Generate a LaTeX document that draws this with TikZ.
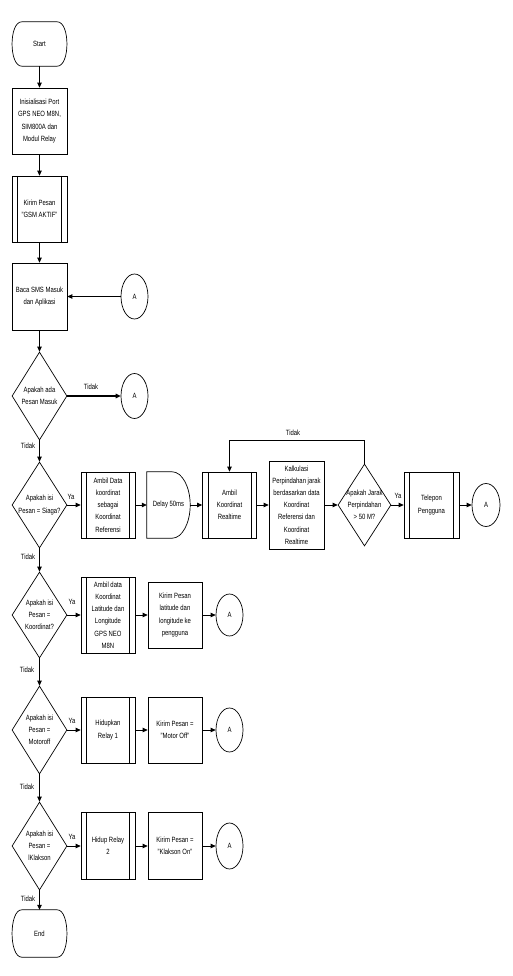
\documentclass[tikz,border=0pt]{standalone}
\usepackage{fontspec}
\setmainfont{Liberation Sans}[FakeStretch=0.78]
\usetikzlibrary{shapes.geometric,arrows.meta,calc}
\begin{document}
\begin{tikzpicture}[x=1pt,y=-1pt, font=\fontsize{7.6}{12.2}\selectfont,
 box/.style={draw, line width=0.7pt, minimum width=55pt, minimum height=66pt, inner sep=1pt, align=center},
 pbox/.style={box, path picture={\draw[line width=0.7pt] ([xshift=5.5pt]path picture bounding box.north west) -- ([xshift=5.5pt]path picture bounding box.south west); \draw[line width=0.7pt] ([xshift=-5.5pt]path picture bounding box.north east) -- ([xshift=-5.5pt]path picture bounding box.south east);}},
 dec/.style={draw, diamond, line width=0.7pt, minimum width=55pt, minimum height=86pt, inner sep=0pt},
 txt/.style={align=center, inner sep=0pt},
 conn/.style={draw, ellipse, line width=0.7pt, minimum width=27pt, minimum height=44pt, inner sep=0pt},
 arr/.style={line width=0.8pt, -{Triangle[length=5pt,width=4.5pt]}},
 lab/.style={inner sep=0pt},
 shp/.style={line width=0.7pt}]
\useasboundingbox (0,0) rectangle (513,976);

% Start
\node[txt, minimum width=55pt, minimum height=44pt] (start) at (39.5,44) {Start};
\draw[shp] ($(start.north west)+(10,0)$) -- ($(start.north east)+(-10,0)$)
  .. controls ($(start.north east)+(3,0)$) and ($(start.south east)+(3,0)$) .. ($(start.south east)+(-10,0)$)
  -- ($(start.south west)+(10,0)$)
  .. controls ($(start.south west)+(-3,0)$) and ($(start.north west)+(-3,0)$) .. cycle;

\node[box] (init) at (39.5,121) {Inisialisasi Port\\GPS NEO M8N,\\SIM800A dan\\Modul Relay};
\node[pbox] (kirim1) at (39.5,209) {Kirim Pesan\\"GSM AKTIF"};
\node[box, minimum height=67pt] (baca) at (39.5,296.5) {Baca SMS Masuk\\dan Aplikasi};
\node[conn, minimum height=45pt] (A1) at (134.5,296.5) {A};

\node[dec, minimum height=88pt] (d1) at (39.5,396) {};
\node[txt] (d1t) at (d1.center) {Apakah ada\\Pesan Masuk};
\node[conn, minimum height=45pt] (A2) at (134.5,396) {A};

% Siaga row
\node[dec] (d2) at (39.5,505) {};
\node[txt] (d2t) at (d2.center) {Apakah isi\\Pesan = Siaga?};
\node[pbox, minimum width=54pt] (ref) at (108,505) {Ambil Data\\koordinat\\sebagai\\Koordinat\\Referensi};
\node[txt, minimum width=43pt, minimum height=66pt] (delay) at (168.5,505) {Delay 50ms};
\draw[shp] (delay.north west) -- ($(delay.north east)+(-18,0)$)
  .. controls ($(delay.north east)+(-8,0)$) and ($(delay.east)+(0,-18)$) .. (delay.east)
  .. controls ($(delay.east)+(0,18)$) and ($(delay.south east)+(-8,0)$) .. ($(delay.south east)+(-18,0)$)
  -- (delay.south west) -- cycle;
\node[pbox, minimum width=54pt] (ambil) at (229.5,505) {Ambil\\Koordinat\\Realtime};
\node[box, minimum height=88pt] (kalk) at (296.5,505) {Kalkulasi\\Perpindahan jarak\\berdasarkan data\\Koordinat\\Referensi dan\\Koordinat\\Realtime};
\node[dec, minimum width=53pt, minimum height=82pt] (d3) at (364.5,505) {};
\node[txt] (d3t) at (d3.center) {Apakah Jarak\\Perpindahan\\> 50 M?};
\node[pbox] (tel) at (431.5,505) {Telepon\\Pengguna};
\node[conn, minimum width=28pt, minimum height=43pt] (A3) at (486,505) {A};

% Koordinat row
\node[dec] (d4) at (39.5,615) {};
\node[txt] (d4t) at (d4.center) {Apakah isi\\Pesan =\\Koordinat?};
\node[pbox, minimum width=54pt, minimum height=76pt] (lat) at (108,615) {Ambil data\\Koordinat\\Latitude dan\\Longitude\\GPS NEO\\M8N};
\node[box, minimum width=54pt] (kirim2) at (175,615) {Kirim Pesan\\latitude dan\\longitude ke\\pengguna};
\node[conn, minimum height=42pt] (A4) at (229.5,615) {A};

% Motoroff row
\node[dec, minimum height=88pt] (d5) at (39.5,730) {};
\node[txt] (d5t) at (d5.center) {Apakah isi\\Pesan =\\Motoroff};
\node[pbox, minimum width=54pt] (relay1) at (108,730) {Hidupkan\\Relay 1};
\node[box, minimum width=54pt] (kirim3) at (175,730) {Kirim Pesan =\\"Motor Off"};
\node[conn] (A5) at (229.5,730) {A};

% Klakson row
\node[dec, minimum height=88pt] (d6) at (39.5,846) {};
\node[txt] (d6t) at (d6.center) {Apakah isi\\Pesan =\\lKlakson};
\node[pbox, minimum width=54pt, minimum height=67pt] (relay2) at (108,846) {Hidup Relay\\2};
\node[box, minimum width=54pt, minimum height=67pt] (kirim4) at (175,846) {Kirim Pesan =\\"Klakson On"};
\node[conn, minimum height=46pt] (A6) at (229.5,846) {A};

% End
\node[txt, minimum width=55pt, minimum height=47pt] (end) at (39.5,933.5) {End};
\draw[shp] ($(end.north west)+(10,0)$) -- ($(end.north east)+(-10,0)$)
  .. controls ($(end.north east)+(3,0)$) and ($(end.south east)+(3,0)$) .. ($(end.south east)+(-10,0)$)
  -- ($(end.south west)+(10,0)$)
  .. controls ($(end.south west)+(-3,0)$) and ($(end.north west)+(-3,0)$) .. cycle;

% connectors
\draw[arr] (start) -- (init);
\draw[arr] (init) -- (kirim1);
\draw[arr] (kirim1) -- (baca);
\draw[arr] (A1) -- (baca);
\draw[arr] (baca) -- (d1);
\draw[arr, line width=1.2pt] (d1) -- (A2);
\draw[arr] (d1) -- (d2);
\draw[arr] (d2) -- (ref);
\draw[arr] (ref) -- (delay);
\draw[arr] (delay) -- (ambil);
\draw[arr] (ambil) -- (kalk);
\draw[arr] (kalk) -- (d3);
\draw[arr] (d3) -- (tel);
\draw[arr] (tel) -- (A3);
\draw[arr] (d3.north) -- ++(0,-23) -| (ambil.north);
\draw[arr] (d2) -- (d4);
\draw[arr] (d4) -- (lat);
\draw[arr] (lat) -- (kirim2);
\draw[arr] (kirim2) -- (A4);
\draw[arr] (d4) -- (d5);
\draw[arr] (d5) -- (relay1);
\draw[arr] (relay1) -- (kirim3);
\draw[arr] (kirim3) -- (A5);
\draw[arr] (d5) -- (d6);
\draw[arr] (d6) -- (relay2);
\draw[arr] (relay2) -- (kirim4);
\draw[arr] (kirim4) -- (A6);
\draw[arr] (d6) -- (end);

% labels
\node[lab] (l1) at (91,387) {Tidak};
\node[lab] (l2) at (28,446) {Tidak};
\node[lab] (l3) at (71,497) {Ya};
\node[lab] (l4) at (293,433) {Tidak};
\node[lab] (l5) at (398,496) {Ya};
\node[lab] (l6) at (28,557) {Tidak};
\node[lab] (l7) at (72,602) {Ya};
\node[lab] (l8) at (27,670) {Tidak};
\node[lab] (l9) at (72,721) {Ya};
\node[lab] (l10) at (27,787) {Tidak};
\node[lab] (l11) at (72,837) {Ya};
\node[lab] (l12) at (28,899) {Tidak};
\end{tikzpicture}
\end{document}
